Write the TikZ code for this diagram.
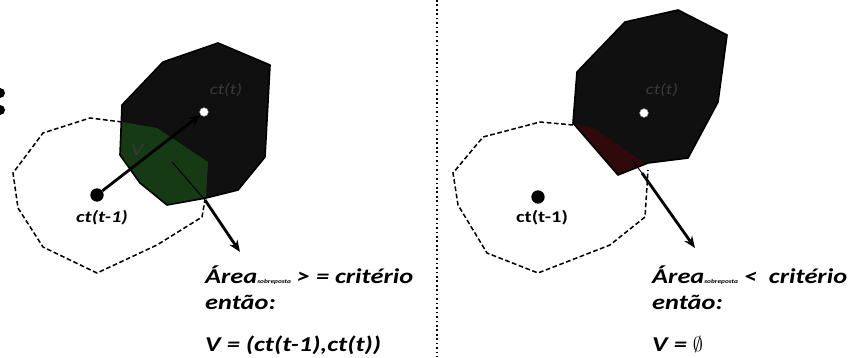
\documentclass[tikz,border=0pt]{standalone}
\usepackage{fontspec}
\setmainfont{Carlito}[FakeStretch=1.25]
\usetikzlibrary{arrows.meta,positioning}
\definecolor{preto}{RGB}{16,16,16}
\definecolor{verdeesc}{RGB}{22,58,20}
\definecolor{vermesc}{RGB}{48,10,10}
\tikzset{
  celula/.style={fill=preto},
  borda/.style={draw=black,line width=1.4pt,line join=round},
  anterior/.style={draw=black,line width=1.3pt,dash pattern=on 4pt off 2.2pt},
  ptp/.style={circle,fill=black,inner sep=0pt,minimum size=0.4cm},
  ptb/.style={circle,fill=white,draw=black!40,inner sep=0pt,minimum size=0.26cm},
  seta/.style={->,>={Stealth[length=10pt,width=8pt]},line width=2.4pt},
  fino/.style={draw=black,line width=0.8pt},
  rot/.style={font=\fontsize{14}{16}\selectfont\bfseries\itshape,inner sep=0pt},
  fraco/.style={text=black!78,font=\fontsize{13}{15}\selectfont\itshape,inner sep=0pt},
  txt/.style={font=\fontsize{18}{21}\selectfont\bfseries\itshape,anchor=base west,inner sep=0pt}
}
\newcommand{\sobrep}{{\fontsize{5}{6}\selectfont sobreposta}}

\begin{document}
\begin{tikzpicture}[x=0.03cm,y=-0.03cm]
\useasboundingbox (0,0) rectangle (853,357);
% dois pontos cortados na margem
\fill (0,93) circle (5); \fill (0,110) circle (5);
% separador
\draw[line width=1.6pt,dash pattern=on 1.4pt off 2.4pt] (437,0)--(437,357);

% painel 1: area sobreposta maior que o criterio
\begin{scope}
\draw[anterior] (122,122)--(90,118)--(43,133)--(13,173)--(18,208)--(43,247)--(97,273)--(157,245)--(202,217)--(205,200);
\fill[celula] (163,62)--(218,43)--(270,65)--(265,157)--(238,190)--(206,198)--(167,205)--(140,183)--(120,155)--(122,105)--cycle;
\fill[verdeesc] (122,122)--(157,128)--(208,162)--(206,198)--(167,205)--(140,183)--(120,155)--cycle;
\draw[borda] (163,62)--(218,43)--(270,65)--(265,157)--(238,190)--(206,198)--(167,205)--(140,183)--(120,155)--(122,105)--cycle;
\node[ptb] (ctA) at (204,112) {};
\node[ptp] (ctantA) at (97,195) {};
\node[fraco] (lctA) at (226,90) {ct(t)};
\node[rot] (lctantA) at (102,218) {ct(t-1)};
\node[fraco,font=\fontsize{15}{17}\selectfont\itshape] (lvA) at (137,150) {V};
\draw[seta] (ctantA)--(ctA);
\coordinate (a0) at (172,162); \coordinate (a1) at (205,200); \coordinate (a2) at (240,252);
\draw[fino] (a0)--(a1); \draw[seta] (a1)--(a2);
\node[txt] (critA) at (205,283) {Área\sobrep{} > = critério};
\node[txt] (entaoA) at (205,309) {então:};
\node[txt] (vA) at (205,351) {V = (ct(t-1),ct(t))};
\end{scope}

% painel 2: area sobreposta menor que o criterio
\begin{scope}
\draw[anterior] (573,125)--(540,122)--(483,137)--(453,173)--(458,205)--(487,253)--(538,273)--(610,245)--(645,217)--(648,170);
\fill[celula] (577,72)--(625,22)--(678,10)--(727,35)--(718,102)--(688,158)--(648,163)--(618,175)--(573,123)--cycle;
\fill[vermesc] (574,124)--(593,128)--(646,164)--(618,175)--cycle;
\draw[borda] (577,72)--(625,22)--(678,10)--(727,35)--(718,102)--(688,158)--(648,163)--(618,175)--(573,123)--cycle;
\node[ptb] (ctB) at (644,113) {};
\node[ptp] (ctantB) at (538,197) {};
\node[fraco] (lctB) at (662,90) {ct(t)};
\node[rot,font=\fontsize{14}{16}\selectfont\bfseries] (lctantB) at (542,218) {ct(t-1)};
\coordinate (b0) at (632,160); \coordinate (b1) at (642,173); \coordinate (b2) at (695,248);
\draw[fino] (b0)--(b1); \draw[seta] (b1)--(b2);
\node[txt] (critB) at (652,283) {Área\sobrep{} <~ critério};
\node[txt] (entaoB) at (652,309) {então:};
\node[txt] (vB) at (652,351) {V = $\emptyset$};
\end{scope}
\end{tikzpicture}
\end{document}
